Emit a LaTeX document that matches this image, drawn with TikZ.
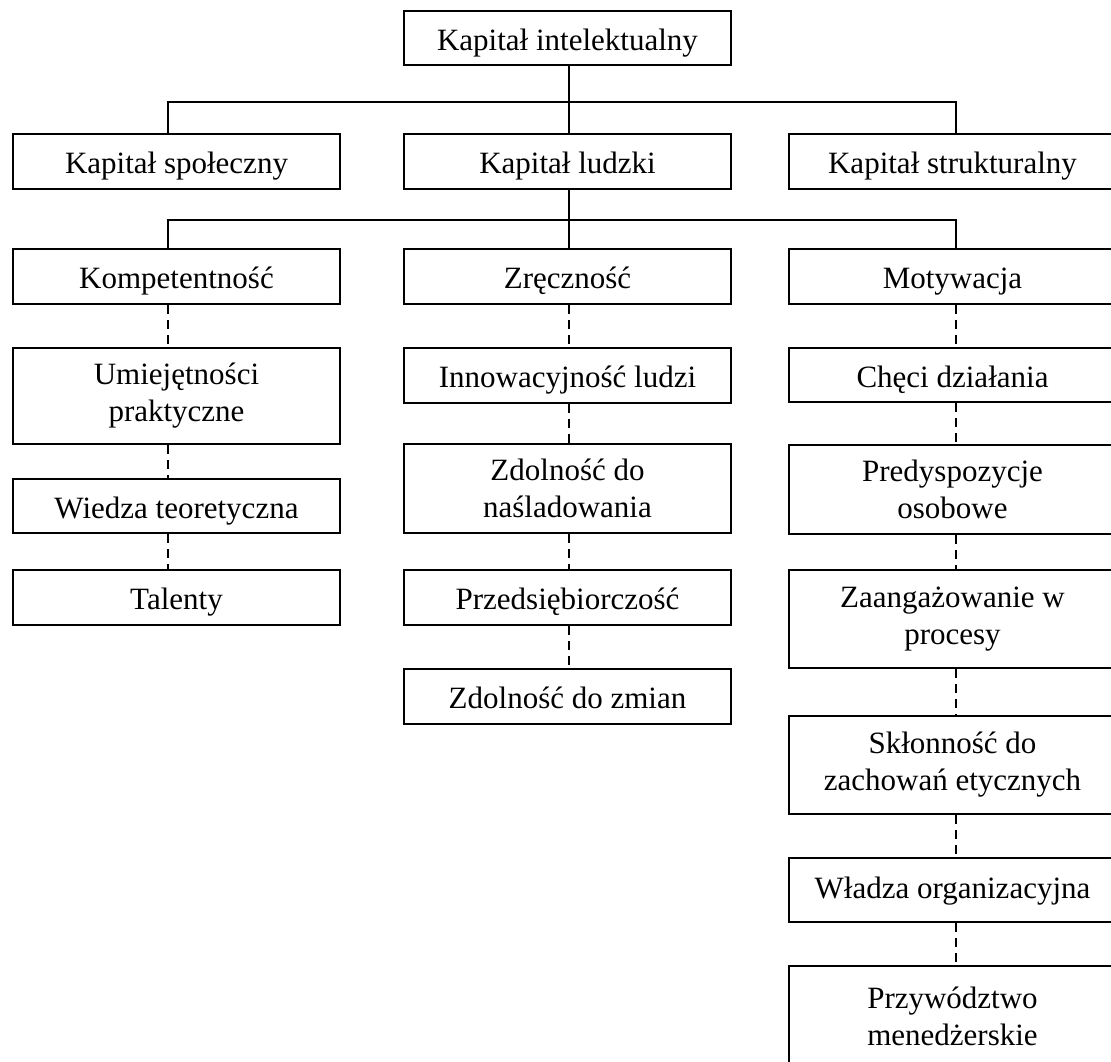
\documentclass[tikz,border=0pt]{standalone}
\usepackage{fontspec}
\setmainfont{Liberation Serif}
\begin{document}
\begin{tikzpicture}[x=1pt,y=-1pt,
  box/.style={draw, line width=2pt, anchor=north west, inner sep=0pt,
    minimum width=327pt, align=center,
    font=\fontsize{31}{37}\selectfont},
  onebox/.style={box, minimum height=55pt, text height=24pt, text depth=0pt},
  twobox/.style={box, minimum height=94pt},
  link/.style={line width=2pt},
  dotlink/.style={line width=2pt, dash pattern=on 9pt off 6pt}]
\useasboundingbox (0,0) rectangle (1111,1061);
\clip (0,0) rectangle (1111,1061);

% columns of the connectors
\coordinate (cL) at (168,0);
\coordinate (cM) at (569,0);
\coordinate (cR) at (956,0);
\coordinate (bus1) at (569,102);
\coordinate (bus2) at (569,220);

% root
\node[onebox, minimum height=54pt] (root) at (403,10) {Kapitał intelektualny};

% second level
\node[onebox] (spol) at (12,133) {Kapitał społeczny};
\node[onebox] (ludz) at (403,133) {Kapitał ludzki};
\node[onebox] (strk) at (788,133) {Kapitał strukturalny};

% third level
\node[onebox] (komp) at (12,248) {Kompetentność};
\node[onebox] (zrec) at (403,248) {Zręczność};
\node[onebox] (moty) at (788,248) {Motywacja};

% competence
\node[twobox, minimum height=96pt] (umie) at (12,347) {Umiejętności\\praktyczne};
\node[onebox, minimum height=54pt] (wied) at (12,478) {Wiedza teoretyczna};
\node[onebox] (tale) at (12,569) {Talenty};

% dexterity
\node[onebox] (inno) at (403,347) {Innowacyjność ludzi};
\node[twobox, minimum height=89pt] (nasl) at (403,443) {Zdolność do\\naśladowania};
\node[onebox] (prze) at (403,569) {Przedsiębiorczość};
\node[onebox] (zmia) at (403,668) {Zdolność do zmian};

% motivation
\node[onebox, minimum height=54pt] (chec) at (788,347) {Chęci działania};
\node[twobox, minimum height=89pt] (pred) at (788,444) {Predyspozycje\\osobowe};
\node[twobox, minimum height=98pt] (zaan) at (788,569) {Zaangażowanie w\\procesy};
\node[twobox, minimum height=98pt] (sklo) at (788,715) {Skłonność do\\zachowań etycznych};
\node[onebox, minimum height=64pt, text height=16pt] (wlad) at (788,857) {Władza organizacyjna};
\node[twobox, minimum height=100pt] (przy) at (788,965) {Przywództwo\\menedżerskie};

% solid tree links
\draw[link] (root.south -| cM) -- (ludz.north -| cM);
\draw[link] (spol.north -| cL) |- (bus1) -| (strk.north -| cR);
\draw[link] (ludz.south -| cM) -- (zrec.north -| cM);
\draw[link] (komp.north -| cL) |- (bus2) -| (moty.north -| cR);

% dashed chains
\draw[dotlink] (komp.south -| cL) -- (umie.north -| cL);
\draw[dotlink] (umie.south -| cL) -- (wied.north -| cL);
\draw[dotlink] (wied.south -| cL) -- (tale.north -| cL);

\draw[dotlink] (zrec.south -| cM) -- (inno.north -| cM);
\draw[dotlink] (inno.south -| cM) -- (nasl.north -| cM);
\draw[dotlink] (nasl.south -| cM) -- (prze.north -| cM);
\draw[dotlink] (prze.south -| cM) -- (zmia.north -| cM);

\draw[dotlink] (moty.south -| cR) -- (chec.north -| cR);
\draw[dotlink] (chec.south -| cR) -- (pred.north -| cR);
\draw[dotlink] (pred.south -| cR) -- (zaan.north -| cR);
\draw[dotlink] (zaan.south -| cR) -- (sklo.north -| cR);
\draw[dotlink] (sklo.south -| cR) -- (wlad.north -| cR);
\draw[dotlink] (wlad.south -| cR) -- (przy.north -| cR);
\end{tikzpicture}
\end{document}
